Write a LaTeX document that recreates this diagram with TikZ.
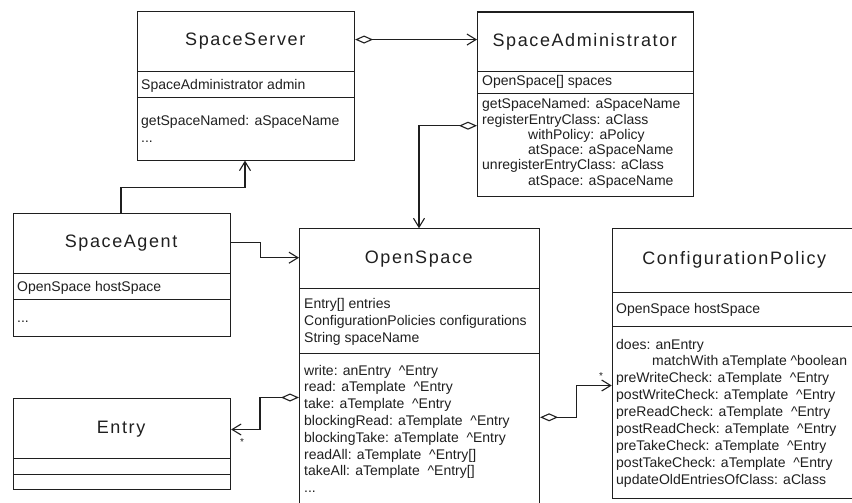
\documentclass[tikz,border=0pt]{standalone}
\usepackage{fontspec}
\setmainfont{Liberation Sans}
\usetikzlibrary{arrows.meta}
\newcommand{\ca}{\textasciicircum}
\def\lsp#1{\lspA#1\relax}
\def\lspA#1{\ifx\relax#1\else#1\kern1.6pt\expandafter\lspA\fi}
\begin{document}
\begin{tikzpicture}[x=1pt,y=-1pt,
  box/.style={draw=black!88,rectangle,inner sep=0,anchor=north west,line width=1.1pt,text=black!88},
  ttl/.style={box,font=\fontsize{18}{20}\selectfont},
  txt/.style={anchor=base west,inner sep=0,text=black!88,font=\fontsize{14}{17}\selectfont},
  mult/.style={inner sep=0,text=black!88,font=\fontsize{10}{10}\selectfont},
  conn/.style={draw=black!88,line width=1.1pt},
  agg/.style={conn,{Diamond[open,length=18pt,width=8pt]}-{Straight Barb[length=9pt,width=11pt]}},
  arr/.style={conn,-{Straight Barb[length=9pt,width=11pt]}}]
\useasboundingbox (0,0) rectangle (852,503);

% SpaceServer
\node[ttl,minimum width=217,minimum height=60] (sst) at (137,11) {\lsp{SpaceServer}};
\node[box,minimum width=217,minimum height=26] (ssa) at (137,71) {};
\node[box,minimum width=217,minimum height=62.5] (ssm) at (137,97) {};
\node[txt] (ssa0) at (141,89) {SpaceAdministrator admin};
\node[txt] (ssm0) at (141,125) {getSpaceNamed: aSpaceName};
\node[txt] (ssm1) at (141,142) {...};

% SpaceAdministrator
\node[ttl,minimum width=216,minimum height=59.5] (sat) at (477,11.5) {\lsp{SpaceAdministrator}};
\node[box,minimum width=216,minimum height=22] (saa) at (477,71) {};
\node[box,minimum width=216,minimum height=102.5] (sam) at (477,93) {};
\node[txt] (saa0) at (482,86) {OpenSpace[] spaces};
\node[txt] (sam0) at (482,109) {getSpaceNamed: aSpaceName};
\node[txt] (sam1) at (482,124.2) {registerEntryClass: aClass};
\node[txt] (sam2) at (528,139.4) {withPolicy: aPolicy};
\node[txt] (sam3) at (528,154.6) {atSpace: aSpaceName};
\node[txt] (sam4) at (482,169.8) {unregisterEntryClass: aClass};
\node[txt] (sam5) at (528,185) {atSpace: aSpaceName};

% SpaceAgent
\node[ttl,minimum width=217.3,minimum height=60.2] (sgt) at (12.7,212.5) {\lsp{SpaceAgent}};
\node[box,minimum width=217.3,minimum height=26.3] (sga) at (12.7,272.7) {};
\node[box,minimum width=217.3,minimum height=37] (sgm) at (12.7,299) {};
\node[txt] (sga0) at (17,291) {OpenSpace hostSpace};
\node[txt] (sgm0) at (17,322) {...};

% OpenSpace
\node[ttl,minimum width=240,minimum height=60] (ost) at (299,228.3) {\lsp{OpenSpace}};
\node[box,minimum width=240,minimum height=64.2] (osa) at (299,288.3) {};
\node[box,minimum width=240,minimum height=158] (osm) at (299,352.5) {};
\node[txt] (osa0) at (304,308) {Entry[] entries};
\node[txt] (osa1) at (304,325) {ConfigurationPolicies configurations};
\node[txt] (osa2) at (304,342) {String spaceName};
\node[txt] (osm0) at (304,375) {write: anEntry~~\ca Entry};
\node[txt] (osm1) at (304,391.8) {read: aTemplate~~\ca Entry};
\node[txt] (osm2) at (304,408.6) {take: aTemplate~~\ca Entry};
\node[txt] (osm3) at (304,425.4) {blockingRead: aTemplate~~\ca Entry};
\node[txt] (osm4) at (304,442.2) {blockingTake: aTemplate~~\ca Entry};
\node[txt] (osm5) at (304,459) {readAll: aTemplate~~\ca Entry[]};
\node[txt] (osm6) at (304,475.8) {takeAll: aTemplate~~\ca Entry[]};
\node[txt] (osm7) at (304,492.6) {...};

% ConfigurationPolicy
\node[box,minimum width=250,minimum height=63.4] (cpt) at (611.7,228.3) {};
\node[inner sep=0,text=black!88,font=\fontsize{18}{20}\selectfont] (cptt) at (735,260) {\lsp{ConfigurationPolicy}};
\node[box,minimum width=250,minimum height=34.3] (cpa) at (611.7,291.7) {};
\node[box,minimum width=250,minimum height=172] (cpm) at (611.7,326) {};
\node[txt] (cpa0) at (616,313.3) {OpenSpace hostSpace};
\node[txt] (cpm0) at (616,349) {does: anEntry};
\node[txt] (cpm1) at (652,365.9) {matchWith aTemplate \ca boolean};
\node[txt] (cpm2) at (616,382.8) {preWriteCheck: aTemplate~~\ca Entry};
\node[txt] (cpm3) at (616,399.7) {postWriteCheck: aTemplate~~\ca Entry};
\node[txt] (cpm4) at (616,416.6) {preReadCheck: aTemplate~~\ca Entry};
\node[txt] (cpm5) at (616,433.5) {postReadCheck: aTemplate~~\ca Entry};
\node[txt] (cpm6) at (616,450.4) {preTakeCheck: aTemplate~~\ca Entry};
\node[txt] (cpm7) at (616,467.3) {postTakeCheck: aTemplate~~\ca Entry};
\node[txt] (cpm8) at (616,484.2) {updateOldEntriesOfClass: aClass};

% Entry
\node[ttl,minimum width=217.3,minimum height=60] (ent) at (12.7,398.3) {\lsp{Entry}};
\node[box,minimum width=217.3,minimum height=15.7] (ena) at (12.7,458.3) {};
\node[box,minimum width=217.3,minimum height=15.3] (enm) at (12.7,474) {};

% connectors
\draw[agg] ([yshift=2pt]sst.east) -- ([yshift=2pt]sst.east -| sat.west);

\coordinate (k2) at (419,125.7);
\draw[agg] (k2 -| sam.west) -- (k2) -- (k2 |- ost.north);

\coordinate (k3a) at (121,187.3);
\coordinate (k3b) at (245,187.3);
\draw[arr] (k3a |- sgt.north) -- (k3a) -- (k3b) -- (k3b |- ssm.south);

\coordinate (k4a) at (260.7,242.7);
\coordinate (k4b) at (260.7,257.7);
\draw[arr] (k4a -| sgt.east) -- (k4a) -- (k4b) -- (k4b -| ost.west);

\coordinate (k5a) at (260,397.5);
\coordinate (k5b) at (260,429.5);
\draw[agg] (k5a -| osm.west) -- (k5a) -- (k5b) -- (k5b -| ent.east);
\node[mult] (m5) at (242,442) {*};

\coordinate (k6a) at (576.7,417.3);
\coordinate (k6b) at (576.7,385.5);
\draw[agg] (k6a -| osm.east) -- (k6a) -- (k6b) -- (k6b -| cpm.west);
\node[mult] (m6) at (601,376) {*};
\end{tikzpicture}
\end{document}
